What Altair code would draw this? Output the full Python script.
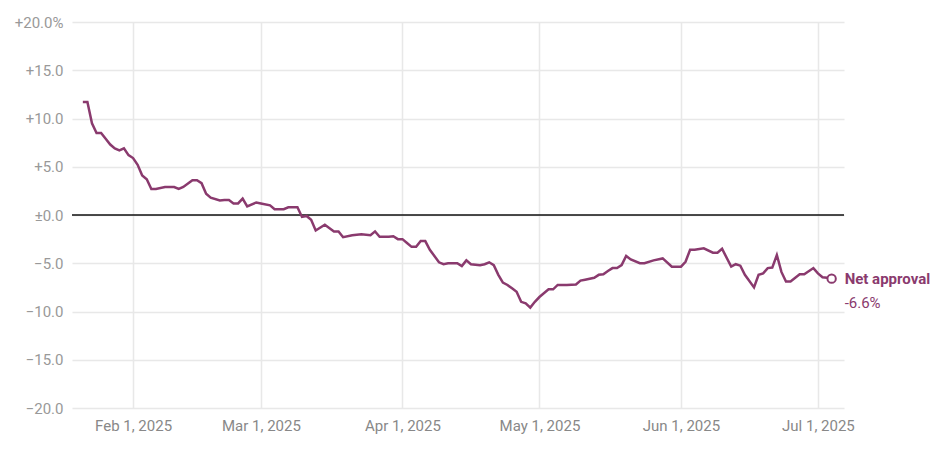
import altair as alt
import pandas as pd

PURPLE = "#8a3a6e"
FONT = "Roboto, Liberation Sans, sans-serif"

dates = [
    "2025-01-21", "2025-01-22", "2025-01-23", "2025-01-24", "2025-01-25", "2025-01-26",
    "2025-01-27", "2025-01-28", "2025-01-29", "2025-01-30", "2025-01-31", "2025-02-01",
    "2025-02-02", "2025-02-03", "2025-02-04", "2025-02-05", "2025-02-06", "2025-02-08",
    "2025-02-09", "2025-02-10", "2025-02-11", "2025-02-12", "2025-02-14", "2025-02-15",
    "2025-02-16", "2025-02-17", "2025-02-18", "2025-02-20", "2025-02-21", "2025-02-22",
    "2025-02-23", "2025-02-24", "2025-02-25", "2025-02-26", "2025-02-28", "2025-03-01",
    "2025-03-03", "2025-03-04", "2025-03-06", "2025-03-07", "2025-03-09", "2025-03-10",
    "2025-03-11", "2025-03-12", "2025-03-13", "2025-03-15", "2025-03-17", "2025-03-18",
    "2025-03-19", "2025-03-21", "2025-03-23", "2025-03-25", "2025-03-26", "2025-03-27",
    "2025-03-29", "2025-03-30", "2025-03-31", "2025-04-01", "2025-04-02", "2025-04-03",
    "2025-04-04", "2025-04-05", "2025-04-06", "2025-04-07", "2025-04-09", "2025-04-10",
    "2025-04-11", "2025-04-13", "2025-04-14", "2025-04-15", "2025-04-16", "2025-04-18",
    "2025-04-19", "2025-04-20", "2025-04-21", "2025-04-22", "2025-04-23", "2025-04-24",
    "2025-04-25", "2025-04-26", "2025-04-27", "2025-04-28", "2025-04-29", "2025-04-30",
    "2025-05-01", "2025-05-03", "2025-05-04", "2025-05-05", "2025-05-07", "2025-05-09",
    "2025-05-10", "2025-05-11", "2025-05-13", "2025-05-14", "2025-05-15", "2025-05-16",
    "2025-05-17", "2025-05-18", "2025-05-19", "2025-05-20", "2025-05-21", "2025-05-23",
    "2025-05-24", "2025-05-26", "2025-05-28", "2025-05-30", "2025-06-01", "2025-06-02",
    "2025-06-03", "2025-06-04", "2025-06-06", "2025-06-08", "2025-06-09", "2025-06-10",
    "2025-06-12", "2025-06-13", "2025-06-14", "2025-06-15", "2025-06-17", "2025-06-18",
    "2025-06-19", "2025-06-20", "2025-06-21", "2025-06-22", "2025-06-23", "2025-06-24",
    "2025-06-25", "2025-06-27", "2025-06-28", "2025-06-30", "2025-07-01", "2025-07-02",
    "2025-07-03", "2025-07-04",
]
values = [
    11.7, 11.7, 9.5, 8.5, 8.5, 7.9,
    7.3, 6.9, 6.7, 6.9, 6.2, 5.9,
    5.2, 4.1, 3.7, 2.7, 2.7, 2.9,
    2.9, 2.9, 2.7, 2.9, 3.6, 3.6,
    3.3, 2.2, 1.8, 1.5, 1.55, 1.55,
    1.2, 1.2, 1.7, 0.9, 1.3, 1.2,
    1.0, 0.6, 0.6, 0.8, 0.8, -0.2,
    -0.1, -0.5, -1.6, -1.0, -1.7, -1.7,
    -2.3, -2.1, -2.0, -2.1, -1.7, -2.25,
    -2.25, -2.2, -2.5, -2.5, -2.9, -3.3,
    -3.3, -2.7, -2.7, -3.6, -4.9, -5.1,
    -5.0, -5.0, -5.3, -4.7, -5.1, -5.2,
    -5.1, -4.9, -5.2, -6.2, -7.0, -7.25,
    -7.6, -7.95, -9.0, -9.15, -9.6, -9.0,
    -8.5, -7.7, -7.7, -7.25, -7.25, -7.2,
    -6.8, -6.7, -6.5, -6.2, -6.15, -5.8,
    -5.5, -5.5, -5.2, -4.25, -4.6, -5.0,
    -5.0, -4.7, -4.5, -5.35, -5.35, -4.85,
    -3.6, -3.6, -3.45, -3.9, -3.9, -3.5,
    -5.35, -5.1, -5.25, -6.2, -7.5, -6.2,
    -6.05, -5.5, -5.45, -4.15, -5.9, -6.9,
    -6.9, -6.15, -6.15, -5.5, -6.05, -6.45,
    -6.5, -6.6,
]
series_label = "Net approval"
y_ticks = [-20, -15, -10, -5, 0, 5, 10, 15, 20]
x_tick_months = [2, 3, 4, 5, 6, 7]

df = pd.DataFrame({"date": pd.to_datetime(dates), "value": values})
last = df.tail(1).copy()
last["label"] = series_label
last["vlabel"] = last["value"].map(lambda v: f"{v:.1f}%")

x_enc = alt.X(
    "date:T",
    scale=alt.Scale(domain=[
        alt.DateTime(year=2025, month=1, date=18, hours=15),
        alt.DateTime(year=2025, month=7, date=6, hours=17),
    ]),
    axis=alt.Axis(
        values=[alt.DateTime(year=2025, month=m, date=1) for m in x_tick_months],
        format="%b %-d, %Y", title=None, grid=True, ticks=False, domain=False,
        labelPadding=10, labelFontSize=15, labelColor="#888888", labelFont=FONT,
        gridColor="#e8e8e8", gridWidth=1.5,
    ),
)
y_enc = alt.Y(
    "value:Q",
    scale=alt.Scale(domain=[-20, 20], nice=False),
    axis=alt.Axis(
        values=y_ticks, title=None, grid=True, ticks=False, domain=False,
        labelExpr="datum.value == 20 ? '+20.0%' : datum.value > 0 ? '+' + format(datum.value, '.1f') : datum.value == 0 ? '±0.0' : '\u2212' + format(-datum.value, '.1f')",
        labelPadding=9, labelFontSize=15, labelColor="#999999", labelFont=FONT,
        gridColor="#e8e8e8", gridWidth=1.5,
    ),
)

base = alt.Chart(df)
line = base.mark_line(color=PURPLE, strokeWidth=2.5).encode(x=x_enc, y=y_enc)

zero = alt.Chart(pd.DataFrame({"y": [0]})).mark_rule(color="#111111", strokeWidth=1.3).encode(y="y:Q")

pt = alt.Chart(last).mark_point(
    shape="circle", size=70, fill="white", fillOpacity=1, stroke=PURPLE, strokeWidth=2, opacity=1
).encode(x="date:T", y="value:Q")

t1 = alt.Chart(last).mark_text(
    align="left", baseline="middle", dx=13, dy=0, fontSize=15, fontWeight="bold", font=FONT, color=PURPLE
).encode(x="date:T", y="value:Q", text="label:N")

t2 = alt.Chart(last).mark_text(
    align="left", baseline="middle", dx=13, dy=24, fontSize=15, font=FONT, color=PURPLE
).encode(x="date:T", y="value:Q", text="vlabel:N")

chart = alt.layer(zero, line, pt, t1, t2).properties(
    width=772, height=386,
    autosize=alt.AutoSizeParams(type="none"),
    padding={"left": 64, "top": 14, "right": 96, "bottom": 39},
    background="white",
).configure_view(strokeWidth=0)

chart.save("out.html", embed_options={"renderer": "svg", "actions": False})
